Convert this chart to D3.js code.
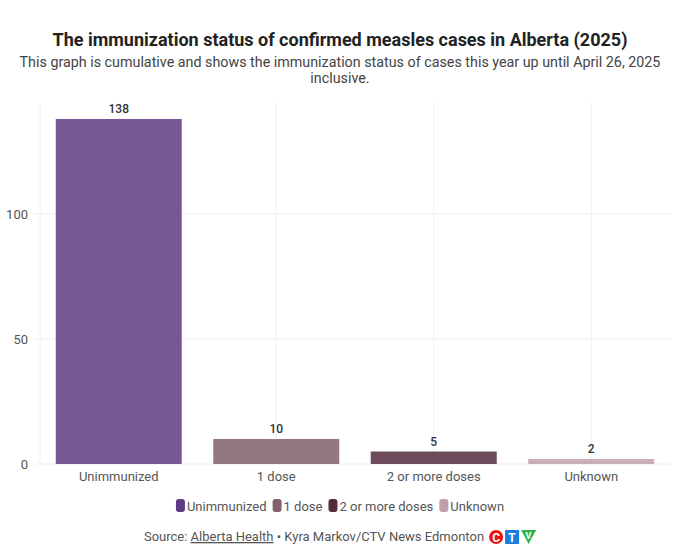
<!DOCTYPE html>
<html>
<head>
<meta charset="utf-8">
<script src="https://cdn.jsdelivr.net/npm/d3@7"></script>
<style>
  body { margin: 0; background: #fff; }
  svg text { font-family: Roboto, "Open Sans", sans-serif; }
</style>
</head>
<body>
<div id="chart"></div>
<script>
// data
const categories = ["Unimmunized", "1 dose", "2 or more doses", "Unknown"];
const cases = [138, 10, 5, 2];
const colours = ["#5e3b85", "#80606a", "#522d3e", "#bf9fab"];
const yTicks = [0, 50, 100];

const w = 680, h = 553;
const margin = { top: 103, right: 10, bottom: 89, left: 40 };

const svg = d3.select("#chart").append("svg")
    .attr("width", w)
    .attr("height", h);

// title + subtitle
svg.append("text")
    .attr("x", w / 2).attr("y", 46)
    .attr("text-anchor", "middle")
    .style("font-size", "18px").style("font-weight", 700)
    .style("fill", "#222")
    .text("The immunization status of confirmed measles cases in Alberta (2025)");

const sub = svg.append("text")
    .attr("text-anchor", "middle")
    .style("font-size", "14.3px")
    .style("fill", "#444");
sub.append("tspan").attr("x", w / 2).attr("y", 67)
    .text("This graph is cumulative and shows the immunization status of cases this year up until April 26, 2025");
sub.append("tspan").attr("x", w / 2).attr("y", 83).text("inclusive.");

// SCALES
const x = d3.scaleBand()
    .domain(categories)
    .range([margin.left, w - margin.right])
    .paddingInner(0.2)
    .paddingOuter(0.1);

const y = d3.scaleLinear()
    .domain([0, 144.4])
    .range([h - margin.bottom, margin.top]);

const colour = d3.scaleOrdinal().domain(categories).range(colours);

// GRID
const grid = svg.append("g");
grid.selectAll(".hgrid").data(yTicks).enter().append("line")
    .attr("x1", margin.left - 5).attr("x2", w - margin.right)
    .attr("y1", d => y(d)).attr("y2", d => y(d))
    .style("stroke", "#ececec");

const vlines = [margin.left].concat(categories.map(c => x(c) + x.bandwidth() / 2));
grid.selectAll(".vgrid").data(vlines).enter().append("line")
    .attr("x1", d => d).attr("x2", d => d)
    .attr("y1", margin.top).attr("y2", y(0))
    .style("stroke", "#f0f0f0");

// AXES
const yAxis = svg.append("g")
    .attr("transform", "translate(" + (margin.left - 9) + ",0)")
    .call(d3.axisLeft(y).tickValues(yTicks).tickSize(0));
yAxis.select(".domain").remove();
yAxis.selectAll("text")
    .style("font-size", "13px").style("fill", "#555")
    .style("font-family", "Roboto, sans-serif");

const xAxis = svg.append("g")
    .attr("transform", "translate(0," + y(0) + ")")
    .call(d3.axisBottom(x).tickSize(0).tickPadding(8));
xAxis.select(".domain").remove();
xAxis.selectAll("text")
    .style("font-size", "13px").style("fill", "#555")
    .style("font-family", "Roboto, sans-serif");

// BARS
svg.selectAll(".bar").data(categories).enter().append("rect")
    .attr("x", d => x(d))
    .attr("width", x.bandwidth())
    .attr("y", (d, i) => y(cases[i]))
    .attr("height", (d, i) => y(0) - y(cases[i]))
    .style("fill", d => colour(d))
    .style("fill-opacity", 0.85);

svg.selectAll(".val").data(categories).enter().append("text")
    .attr("x", d => x(d) + x.bandwidth() / 2)
    .attr("y", (d, i) => y(cases[i]) - 6)
    .attr("text-anchor", "middle")
    .style("font-size", "12px").style("font-weight", 500)
    .style("fill", "#333")
    .text((d, i) => cases[i]);

// LEGEND
const legend = svg.append("g");
let lx = 0;
categories.forEach((c, i) => {
    const g = legend.append("g").attr("transform", "translate(" + lx + ",0)");
    g.append("rect").attr("x", 0).attr("y", -7).attr("width", 9).attr("height", 13)
        .attr("rx", 3).style("fill", colour(c));
    const t = g.append("text").attr("x", 11).attr("y", 5)
        .style("font-size", "13px").style("fill", "#555").text(c);
    lx += 11 + t.node().getComputedTextLength() + 6;
});
legend.attr("transform", "translate(" + ((w - (lx - 6)) / 2) + ",506)");

// SOURCE
const src = svg.append("g");
const st = src.append("text").attr("y", 0)
    .style("font-size", "13px").style("fill", "#555");
st.append("tspan").text("Source: ");
st.append("tspan").style("text-decoration", "underline").text("Alberta Health");
st.append("tspan").text(" \u2022 Kyra Markov/CTV News Edmonton");
const sw = st.node().getComputedTextLength();

// CTV logo
const logo = src.append("g").attr("transform", "translate(" + (sw + 5) + ",-11)");
logo.append("circle").attr("cx", 7).attr("cy", 7).attr("r", 7).style("fill", "#e11");
logo.append("text").attr("x", 7).attr("y", 11.5).attr("text-anchor", "middle")
    .style("font-size", "12px").style("font-weight", 700).style("fill", "#fff").text("C");
logo.append("rect").attr("x", 16).attr("y", 0).attr("width", 14).attr("height", 14).style("fill", "#1a7ee0");
logo.append("text").attr("x", 23).attr("y", 11.5).attr("text-anchor", "middle")
    .style("font-size", "12px").style("font-weight", 700).style("fill", "#fff").text("T");
logo.append("path").attr("d", "M32,0 L47,0 L39.5,14 Z").style("fill", "#2db34a");
logo.append("text").attr("x", 39.5).attr("y", 9).attr("text-anchor", "middle")
    .style("font-size", "9px").style("font-weight", 700).style("fill", "#fff").text("V");

const total = sw + 5 + 47;
src.attr("transform", "translate(" + ((w - total) / 2) + ",541)");
</script>
</body>
</html>
